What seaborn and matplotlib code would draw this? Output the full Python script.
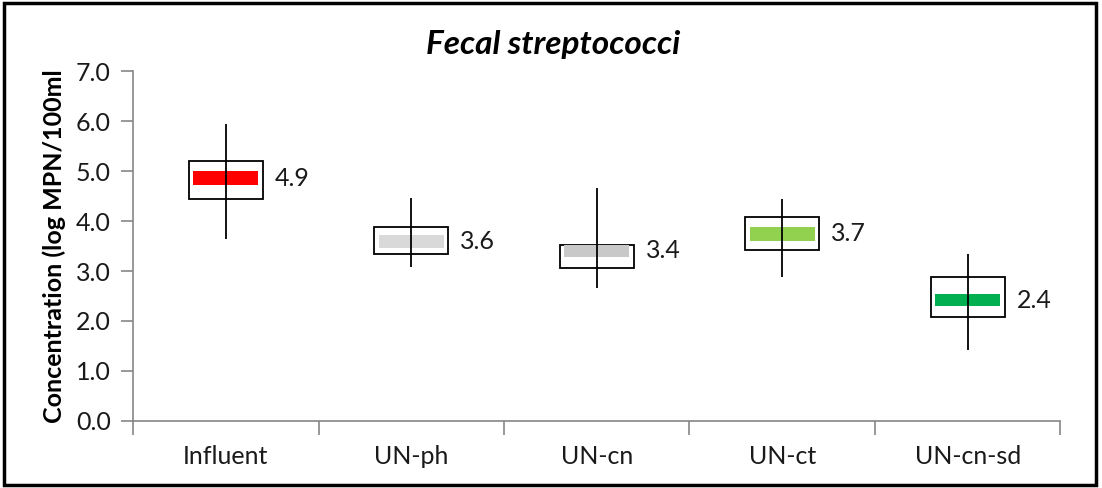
import numpy as np
import pandas as pd
import seaborn as sns
import matplotlib.pyplot as plt
from matplotlib.patches import Rectangle

# Data
groups = ['Influent', 'UN-ph', 'UN-cn', 'UN-ct', 'UN-cn-sd']
mean_labels = ['4.9', '3.6', '3.4', '3.7', '2.4']
box_low = [4.44, 3.35, 3.07, 3.43, 2.07]
box_high = [5.20, 3.89, 3.53, 4.09, 2.89]
bar_low = [4.72, 3.47, 3.29, 3.61, 2.29]
bar_high = [5.00, 3.72, 3.52, 3.88, 2.54]
whisker_low = [3.64, 3.08, 2.66, 2.89, 1.42]
whisker_high = [5.94, 4.46, 4.66, 4.45, 3.35]
bar_colors = ['#ff0000', '#d9d9d9', '#c8c8c8', '#92d050', '#00b050']

df = pd.DataFrame({
    'group': groups,
    'box_low': box_low, 'box_high': box_high,
    'bar_low': bar_low, 'bar_high': bar_high,
    'wlo': whisker_low, 'whi': whisker_high,
})
df['box_h'] = df['box_high'] - df['box_low']
df['bar_h'] = df['bar_high'] - df['bar_low']

sns.set_theme(style='white')
plt.rcParams['font.family'] = ['Lato', 'DejaVu Sans']

fig = plt.figure(figsize=(11.02, 4.88), dpi=100)
ax = fig.add_axes([0.1207, 0.1373, 0.8416, 0.7172])

# open rectangles (range boxes)
sns.barplot(data=df, x='group', y='box_h', bottom=df['box_low'].values, ax=ax,
            color='black', width=0.4, fill=False, edgecolor='black',
            linewidth=1.3, zorder=2)
# coloured inner bars
xs = np.arange(len(groups))
ax.bar(xs, df['bar_h'], bottom=df['bar_low'], width=0.35, color=bar_colors,
       linewidth=0, zorder=3)
# whiskers
ax.vlines(xs, df['wlo'], df['whi'], color='black', linewidth=1.3, zorder=4)

# mean labels to the right of each box
for x, top, bot, lab in zip(xs, bar_high, bar_low, mean_labels):
    ax.text(x + 0.265, (top + bot) / 2, lab, fontsize=18, va='center', ha='left',
            color='#1a1a1a')

ax.set_ylim(0, 7)
ax.set_xlim(-0.5, len(groups) - 0.5)
ax.set_xticks(xs)
ax.set_xticklabels(groups)
ax.set_yticks(np.arange(0, 7.01, 1.0))
ax.set_yticklabels([f'{v:.1f}' for v in np.arange(0, 7.01, 1.0)])
ax.set_xticks(np.arange(-0.5, len(groups), 1.0), minor=True)
ax.tick_params(axis='x', which='major', length=0, labelsize=18, pad=17)
ax.tick_params(axis='x', which='minor', length=10, width=1.2, color='#868686',
               direction='out', bottom=True)
ax.tick_params(axis='y', length=9, width=1.2, color='#868686', direction='out',
               left=True, labelsize=18, pad=7)
for lab in ax.get_xticklabels() + ax.get_yticklabels():
    lab.set_color('#1a1a1a')

sns.despine(ax=ax)
for s in ['left', 'bottom']:
    ax.spines[s].set_color('#868686')
    ax.spines[s].set_linewidth(1.2)

ax.set_xlabel('')
ax.set_ylabel('Concentration (log MPN/100ml', fontsize=18, fontweight='bold',
              color='black')
ax.yaxis.set_label_coords(-0.072, 0.5)
fig.text(0.502, 0.908, 'Fecal streptococci', fontsize=24, fontweight='bold',
         style='italic', ha='center', va='center', color='black')

# outer chart frame
fig.patches.append(Rectangle((0.004, 0.006), 0.991, 0.988, transform=fig.transFigure,
                             fill=False, edgecolor='black', linewidth=2.5))

fig.savefig('out.png', dpi=100)
